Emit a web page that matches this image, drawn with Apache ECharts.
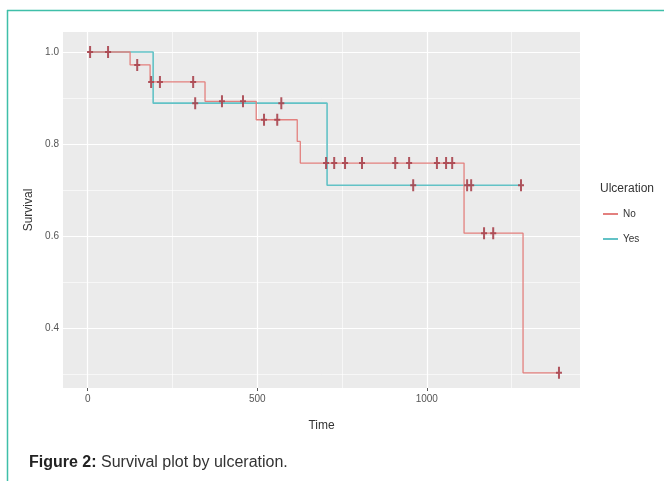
<!DOCTYPE html>
<html>
<head>
<meta charset="utf-8">
<script src="https://cdn.jsdelivr.net/npm/echarts@6/dist/echarts.min.js"></script>
<style>
html,body{margin:0;padding:0;background:#fff;}
#chart{width:664px;height:481px;}
</style>
</head>
<body>
<div id="chart"></div>
<script>
// ---- data ----
const seriesNames = ['No', 'Yes'];
// Kaplan-Meier step points: [time, survival] at each event
const noSteps = [[0, 1.0], [125, 0.972], [184, 0.935], [346, 0.893], [497, 0.853], [618, 0.806], [627, 0.759], [1110, 0.607], [1284, 0.304], [1390, 0.304]];
const yesSteps = [[0, 1.0], [193, 0.889], [706, 0.711], [1278, 0.711]];
// censoring times
const noCensor = [7, 60, 146, 187, 213, 311, 396, 458, 520, 559, 703, 727, 759, 809, 907, 948, 1030, 1057, 1075, 1169, 1196, 1390];
const yesCensor = [317, 571, 960, 1119, 1131, 1278];
// axis ticks
const xTicks = [0, 500, 1000];
const xMinor = [250, 750, 1250];
const yTicks = [0.4, 0.6, 0.8, 1.0];
const yMinor = [0.3, 0.5, 0.7, 0.9];

function survAt(steps, t) {
  let s = steps[0][1];
  for (const p of steps) { if (p[0] <= t) s = p[1]; }
  return s;
}

const colNo = '#E3807E';
const colYes = '#62C2C6';
const markCol = '#A9444E';
const plusPath = 'path://M2,0 L4,0 L4,5 L6,5 L6,7 L4,7 L4,12 L2,12 L2,7 L0,7 L0,5 L2,5 Z';

const chart = echarts.init(document.getElementById('chart'), null, {renderer: 'canvas'});

const gridLineData = []
  .concat(xMinor.map(v => ({xAxis: v, lineStyle: {width: 0.6}})))
  .concat(yMinor.map(v => ({yAxis: v, lineStyle: {width: 0.6}})))
  .concat(xTicks.map(v => ({xAxis: v, lineStyle: {width: 1.2}})))
  .concat(yTicks.map(v => ({yAxis: v, lineStyle: {width: 1.2}})));

const option = {
  backgroundColor: '#ffffff',
  animation: false,
  title: [
    {
      text: '{b|Figure 2:} Survival plot by ulceration.',
      left: 24, top: 450,
      textStyle: {
        fontFamily: 'Liberation Sans, Arial, sans-serif', fontSize: 16, fontWeight: 'normal', color: '#333333',
        rich: { b: {fontFamily: 'Liberation Sans, Arial, sans-serif', fontSize: 16, fontWeight: 'bold', color: '#222222'} }
      }
    },
    {
      text: 'Ulceration',
      left: 595, top: 178,
      textStyle: {fontFamily: 'Liberation Sans, Arial, sans-serif', fontSize: 12, fontWeight: 'normal', color: '#333333'}
    }
  ],
  legend: {
    orient: 'vertical',
    left: 598, top: 204,
    itemWidth: 15, itemHeight: 2, itemGap: 15,
    icon: 'rect',
    textStyle: {fontFamily: 'Liberation Sans, Arial, sans-serif', fontSize: 10, color: '#333333', padding: [0, 0, 0, 0]},
    data: seriesNames
  },
  grid: {
    left: 63, top: 32, right: 84, bottom: 93, z: 0,
    show: true, backgroundColor: '#EBEBEB', borderWidth: 0
  },
  xAxis: {
    type: 'value',
    min: -72.9, max: 1452,
    name: 'Time', nameLocation: 'middle', nameGap: 32,
    nameTextStyle: {fontFamily: 'Liberation Sans, Arial, sans-serif', fontSize: 12, color: '#333333'},
    axisLine: {show: false},
    axisTick: {show: true, length: 3, lineStyle: {color: '#555555'}, customValues: xTicks},
    axisLabel: {customValues: xTicks, fontFamily: 'Liberation Sans, Arial, sans-serif', fontSize: 10, color: '#555555', margin: 6,
      formatter: v => String(Math.round(v))},
    splitLine: {show: false}
  },
  yAxis: {
    type: 'value',
    min: 0.271, max: 1.0434,
    name: 'Survival', nameLocation: 'middle', nameGap: 25,
    nameTextStyle: {fontFamily: 'Liberation Sans, Arial, sans-serif', fontSize: 12, color: '#333333'},
    axisLine: {show: false},
    axisTick: {show: true, length: 3, lineStyle: {color: '#555555'}, customValues: yTicks},
    axisLabel: {customValues: yTicks, fontFamily: 'Liberation Sans, Arial, sans-serif', fontSize: 10, color: '#555555', margin: 4,
      formatter: v => Number(v).toFixed(1)},
    splitLine: {show: false}
  },
  series: [
    {
      name: '__grid', type: 'line', data: [], z: 1, silent: true,
      markLine: {
        silent: true, symbol: 'none', label: {show: false}, animation: false, z: 1,
        lineStyle: {color: '#ffffff', type: 'solid'},
        emphasis: {disabled: true},
        data: gridLineData
      }
    },
    {
      name: 'No', type: 'line', step: 'end', data: noSteps, showSymbol: false, symbol: 'none', z: 8,
      lineStyle: {color: colNo, width: 1.3}, itemStyle: {color: colNo}
    },
    {
      name: 'Yes', type: 'line', step: 'end', data: yesSteps, showSymbol: false, symbol: 'none', z: 7,
      lineStyle: {color: colYes, width: 1.6}, itemStyle: {color: colYes}
    },
    {
      name: 'No censored', type: 'scatter', z: 9, symbol: plusPath, symbolSize: [6, 12],
      itemStyle: {color: markCol, opacity: 0.9},
      data: noCensor.map(t => [t, survAt(noSteps, t)])
    },
    {
      name: 'Yes censored', type: 'scatter', z: 9, symbol: plusPath, symbolSize: [6, 12],
      itemStyle: {color: markCol, opacity: 0.9},
      data: yesCensor.map(t => [t, survAt(yesSteps, t)])
    }
  ],
  graphic: [
    {type: 'line', shape: {x1: 7, y1: 10.5, x2: 664, y2: 10.5}, style: {stroke: '#3FBFA9', lineWidth: 1.5}, silent: true},
    {type: 'line', shape: {x1: 7.5, y1: 10, x2: 7.5, y2: 481}, style: {stroke: '#3FBFA9', lineWidth: 1.5}, silent: true}
  ]
};
chart.setOption(option);
</script>
</body>
</html>
